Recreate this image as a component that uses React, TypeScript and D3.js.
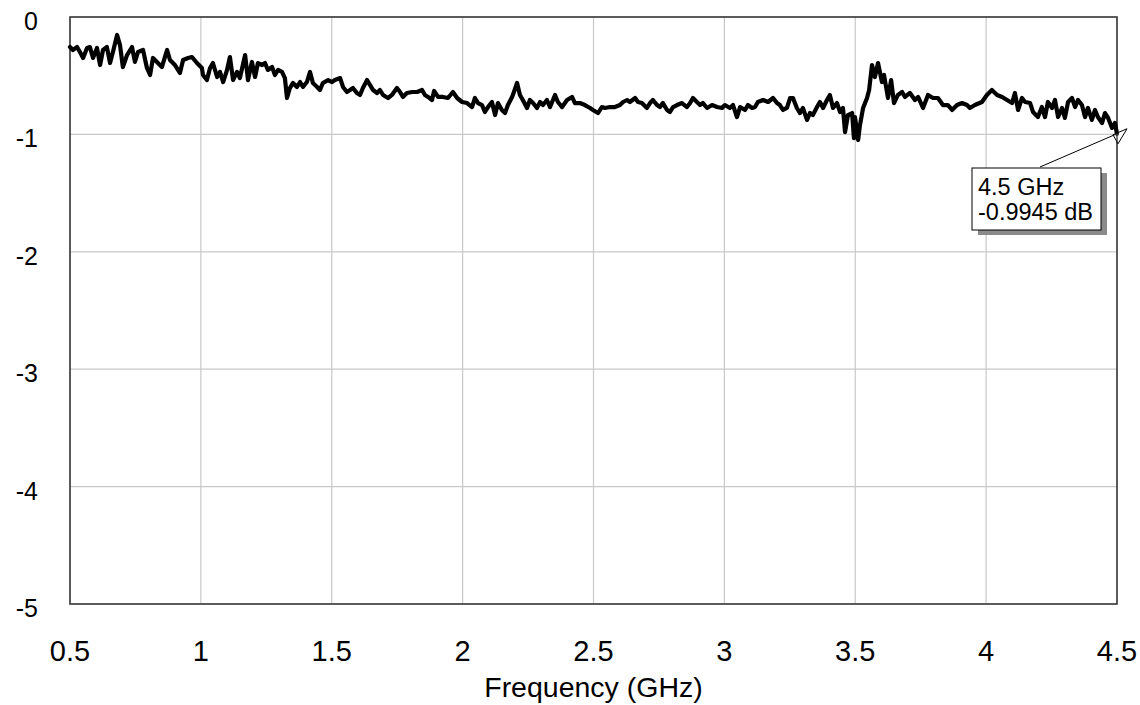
import React from "react";
import * as d3 from "d3";

// Measured sweep: frequency (GHz) and insertion loss (dB)
const FREQ_GHZ = [
  0.5, 0.511, 0.527, 0.538, 0.55, 0.565, 0.576, 0.588, 0.603, 0.615, 0.626, 0.641, 0.653, 0.664, 0.68, 0.691, 0.702, 0.718, 0.737, 0.748, 0.76, 0.779, 0.794, 0.806, 0.817, 0.832, 0.851, 0.871, 0.882, 0.901, 0.92, 0.932, 0.951, 0.966, 0.985, 1.004,
  1.008, 1.023, 1.035, 1.046, 1.062, 1.073, 1.085, 1.1, 1.111, 1.123, 1.138, 1.149, 1.169, 1.18, 1.195, 1.207, 1.218, 1.234, 1.245, 1.256, 1.272, 1.283, 1.295, 1.31, 1.321, 1.329, 1.34, 1.352, 1.367, 1.379, 1.39, 1.405, 1.417, 1.428, 1.444, 1.455, 1.466, 1.486, 1.501,
  1.512, 1.532, 1.543, 1.558, 1.57, 1.581, 1.596, 1.608, 1.619, 1.635, 1.646, 1.658, 1.673, 1.684, 1.696, 1.715, 1.73, 1.749, 1.761, 1.772, 1.787, 1.807, 1.826, 1.845, 1.856, 1.868, 1.883, 1.891, 1.906, 1.925, 1.944, 1.963, 1.979, 1.998,
  2.017, 2.036, 2.047, 2.059, 2.074, 2.085, 2.097, 2.112, 2.124, 2.135, 2.15, 2.162, 2.173, 2.189, 2.196, 2.208, 2.219, 2.23, 2.246, 2.257, 2.269, 2.284, 2.296, 2.307, 2.322, 2.334, 2.353, 2.364, 2.38, 2.399, 2.418, 2.429, 2.448, 2.467, 2.487, 2.498,
  2.517, 2.532, 2.544, 2.563, 2.582, 2.601, 2.613, 2.628, 2.639, 2.659, 2.67, 2.685, 2.704, 2.716, 2.727, 2.743, 2.754, 2.765, 2.781, 2.792, 2.804, 2.819, 2.838, 2.857, 2.869, 2.88, 2.895, 2.907, 2.918, 2.934, 2.953, 2.972, 2.991,
  3.002, 3.021, 3.033, 3.048, 3.06, 3.079, 3.09, 3.106, 3.117, 3.128, 3.148, 3.167, 3.186, 3.201, 3.212, 3.224, 3.239, 3.251, 3.262, 3.277, 3.289, 3.3, 3.316, 3.327, 3.338, 3.354, 3.365, 3.377, 3.392, 3.403, 3.415, 3.43, 3.442, 3.453, 3.461, 3.472, 3.488, 3.495,
  3.499, 3.511, 3.518, 3.53, 3.545, 3.553, 3.564, 3.575, 3.587, 3.602, 3.61, 3.625, 3.637, 3.648, 3.663, 3.679, 3.69, 3.709, 3.728, 3.74, 3.759, 3.778, 3.797, 3.816, 3.835, 3.854, 3.87, 3.889, 3.908, 3.927, 3.938, 3.957, 3.984,
  4.003, 4.022, 4.042, 4.061, 4.08, 4.099, 4.11, 4.122, 4.137, 4.149, 4.168, 4.179, 4.198, 4.213, 4.225, 4.236, 4.252, 4.263, 4.275, 4.29, 4.301, 4.313, 4.328, 4.34, 4.351, 4.366, 4.378, 4.389, 4.404, 4.416, 4.427, 4.443, 4.454, 4.466, 4.481, 4.492, 4.5,
];

const LOSS_DB = [
  -0.256, -0.281, -0.256, -0.298, -0.349, -0.264, -0.256, -0.349, -0.264, -0.409, -0.281, -0.256, -0.392, -0.298, -0.153, -0.239, -0.426, -0.324, -0.256, -0.383, -0.298, -0.281, -0.434, -0.494, -0.349, -0.383, -0.426, -0.281, -0.366, -0.409, -0.477, -0.366, -0.349, -0.341, -0.392, -0.434,
  -0.494, -0.537, -0.434, -0.392, -0.511, -0.468, -0.554, -0.451, -0.341, -0.537, -0.468, -0.52, -0.324, -0.537, -0.383, -0.511, -0.392, -0.409, -0.392, -0.451, -0.426, -0.494, -0.451, -0.468, -0.52, -0.69, -0.605, -0.562, -0.596, -0.554, -0.596, -0.554, -0.468, -0.562, -0.596, -0.622, -0.562, -0.537, -0.554,
  -0.537, -0.52, -0.596, -0.639, -0.622, -0.605, -0.647, -0.664, -0.605, -0.537, -0.579, -0.622, -0.647, -0.622, -0.664, -0.69, -0.664, -0.605, -0.639, -0.681, -0.647, -0.639, -0.639, -0.622, -0.664, -0.681, -0.707, -0.63, -0.681, -0.681, -0.69, -0.639, -0.69, -0.724,
  -0.733, -0.767, -0.69, -0.733, -0.75, -0.809, -0.767, -0.724, -0.835, -0.733, -0.792, -0.818, -0.75, -0.681, -0.639, -0.562, -0.664, -0.707, -0.775, -0.707, -0.733, -0.775, -0.724, -0.75, -0.707, -0.767, -0.664, -0.724, -0.767, -0.707, -0.681, -0.733, -0.733, -0.75, -0.775, -0.792,
  -0.818, -0.767, -0.775, -0.767, -0.767, -0.75, -0.724, -0.707, -0.724, -0.69, -0.724, -0.733, -0.775, -0.733, -0.707, -0.75, -0.767, -0.733, -0.792, -0.809, -0.767, -0.75, -0.733, -0.767, -0.733, -0.69, -0.724, -0.75, -0.733, -0.775, -0.75, -0.767, -0.775,
  -0.75, -0.775, -0.75, -0.852, -0.767, -0.792, -0.75, -0.775, -0.767, -0.724, -0.707, -0.724, -0.69, -0.733, -0.75, -0.792, -0.775, -0.69, -0.69, -0.775, -0.818, -0.775, -0.877, -0.818, -0.835, -0.767, -0.724, -0.775, -0.707, -0.664, -0.775, -0.733, -0.809, -0.775, -0.98, -0.835, -0.818, -1.031,
  -0.852, -1.048, -0.92, -0.775, -0.69, -0.622, -0.409, -0.511, -0.392, -0.554, -0.494, -0.69, -0.537, -0.733, -0.664, -0.639, -0.681, -0.647, -0.707, -0.681, -0.775, -0.664, -0.69, -0.69, -0.75, -0.75, -0.792, -0.75, -0.733, -0.75, -0.775, -0.75, -0.724,
  -0.664, -0.622, -0.664, -0.681, -0.707, -0.733, -0.647, -0.792, -0.69, -0.724, -0.733, -0.809, -0.852, -0.767, -0.852, -0.724, -0.775, -0.707, -0.852, -0.775, -0.86, -0.724, -0.69, -0.767, -0.707, -0.75, -0.852, -0.775, -0.877, -0.792, -0.852, -0.903, -0.818, -0.86, -0.945, -0.903, -0.9945,
];

const X_TICKS = [0.5, 1, 1.5, 2, 2.5, 3, 3.5, 4, 4.5];
const Y_TICKS = [0, -1, -2, -3, -4, -5];
const X_TITLE = "Frequency (GHz)";
const MARKER_FREQ = 4.5;
const MARKER_DB = -0.9945;
const MARKER_LINES = ["4.5 GHz", "-0.9945 dB"];

const FONT = "'Liberation Sans', Arial, Helvetica, sans-serif";

export default function App() {
  const W = 1140;
  const H = 705;
  const x = d3.scaleLinear().domain([0.5, 4.5]).range([70, 1117]);
  const y = d3.scaleLinear().domain([0, -5]).range([17, 604]);
  const [x0, x1] = x.range();
  const [y0, y1] = y.range();

  const line = d3
    .line<number>()
    .x((_, i) => x(FREQ_GHZ[i]))
    .y((d) => y(d));

  const mx = x(MARKER_FREQ);
  const my = y(MARKER_DB);
  const box = { x: 972, y: 168, w: 129, h: 62 };

  return (
    <div style={{ position: "absolute", left: 0, top: 0 }}>
      <svg width={W} height={H} style={{ display: "block", background: "#fff" }}>
        {/* grid */}
        {X_TICKS.map((t) => (
          <line key={"gx" + t} x1={x(t)} x2={x(t)} y1={y0} y2={y1} stroke="#c8c8c8" strokeWidth={1.2} />
        ))}
        {Y_TICKS.map((t) => (
          <line key={"gy" + t} x1={x0} x2={x1} y1={y(t)} y2={y(t)} stroke="#c8c8c8" strokeWidth={1.2} />
        ))}
        {/* frame */}
        <rect x={x0} y={y0} width={x1 - x0} height={y1 - y0} fill="none" stroke="#3a3a3a" strokeWidth={1.6} />

        {/* data */}
        <path d={line(LOSS_DB) || ""} fill="none" stroke="#000" strokeWidth={4.2} strokeLinejoin="round" strokeLinecap="round" />

        {/* y tick labels */}
        {Y_TICKS.map((t) => (
          <text key={"ly" + t} x={38} y={y(t) + 13} textAnchor="end" fontFamily={FONT} fontSize={25} fill="#000">
            {String(t)}
          </text>
        ))}
        {/* x tick labels */}
        {X_TICKS.map((t) => (
          <text key={"lx" + t} x={x(t)} y={661} textAnchor="middle" fontFamily={FONT} fontSize={29} fill="#000">
            {String(t)}
          </text>
        ))}
        <text x={(x0 + x1) / 2} y={697} textAnchor="middle" fontFamily={FONT} fontSize={28.5} fill="#000">
          {X_TITLE}
        </text>

        {/* marker annotation */}
        <line x1={1040} y1={box.y - 1} x2={mx} y2={my} stroke="#000" strokeWidth={1} />
        <polygon
          points={`${mx - 4},${my + 1} ${mx + 10},${my - 5} ${mx + 1},${my + 10}`}
          fill="#fff"
          fillOpacity={0.2}
          stroke="#000"
          strokeWidth={1}
        />
        <rect x={box.x + 6} y={box.y + 5} width={box.w} height={box.h} fill="#8a8a8a" />
        <rect x={box.x} y={box.y} width={box.w} height={box.h} fill="#fff" stroke="#000" strokeWidth={1} />
        {MARKER_LINES.map((s, i) => (
          <text key={s} x={box.x + 6} y={box.y + 27 + i * 25} fontFamily={FONT} fontSize={23.5} fill="#000">
            {s}
          </text>
        ))}
      </svg>
    </div>
  );
}
